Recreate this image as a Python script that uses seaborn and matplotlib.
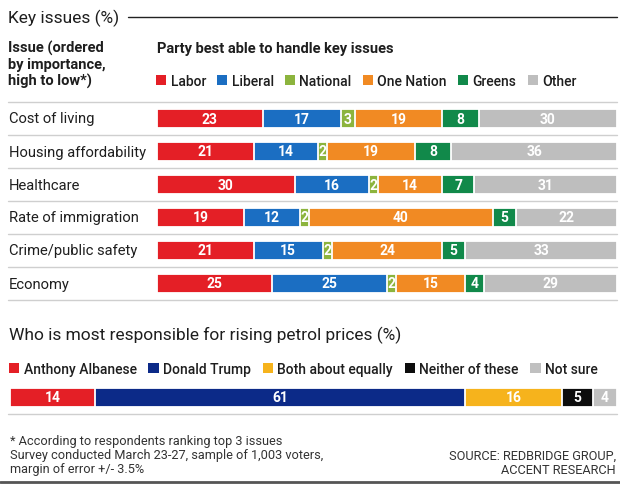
import seaborn as sns
import matplotlib.pyplot as plt
import matplotlib.transforms as mtransforms
from matplotlib.patches import Patch
from matplotlib.lines import Line2D
import numpy as np

# data
issues = ["Cost of living", "Housing affordability", "Healthcare",
          "Rate of immigration", "Crime/public safety", "Economy"]
parties = ["Labor", "Liberal", "National", "One Nation", "Greens", "Other"]
labor = [23, 21, 30, 19, 21, 25]
liberal = [17, 14, 16, 12, 15, 25]
national = [3, 2, 2, 2, 2, 2]
one_nation = [19, 19, 14, 40, 24, 15]
greens = [8, 8, 7, 5, 5, 4]
other = [30, 36, 31, 22, 33, 29]
party_colors = ["#e41f26", "#1b6ec2", "#8cb43d", "#f18a23", "#11894a", "#bebebe"]

petrol_cats = ["Anthony Albanese", "Donald Trump", "Both about equally",
               "Neither of these", "Not sure"]
petrol_vals = [14, 61, 16, 5, 4]
petrol_colors = ["#e41f26", "#0c2a88", "#f6b31c", "#0d0d0d", "#c0c0c0"]

sns.set_theme(style="white")
plt.rcParams['font.family'] = ['Roboto', 'DejaVu Sans']
TXT = "#1e1e1e"

W, H = 620, 485
fig = plt.figure(figsize=(W / 100, H / 100), dpi=100)


def fx(px):
    return px / W


def fy(py):
    return 1 - py / H


def hline(y, x0=8, x1=617, color="#cfcfcf", lw=1.0):
    fig.add_artist(Line2D([fx(x0), fx(x1)], [fy(y), fy(y)], color=color, lw=lw,
                          transform=fig.transFigure))


# ---- top section: key issues ----
fig.text(fx(8), fy(18), "Key issues (%)", fontsize=12.5, color=TXT, va="center")
hline(18, 128, 617, color="#222222", lw=1.0)
fig.text(fx(8), fy(65), "Issue (ordered\nby importance,\nhigh to low*)", fontsize=10.5,
         fontweight="bold", color=TXT, va="center", linespacing=1.15)
fig.text(fx(157), fy(49), "Party best able to handle key issues", fontsize=10.5,
         fontweight="bold", color=TXT, va="center")

ax1 = fig.add_axes([fx(157), fy(301), fx(617) - fx(157), (301 - 103) / H])
series = np.array([labor, liberal, national, one_nation, greens, other]).T
cum = series.cumsum(axis=1)
for j in range(len(parties) - 1, -1, -1):
    sns.barplot(x=cum[:, j], y=issues, orient="h", color=party_colors[j],
                saturation=1, width=0.58, edgecolor="white", linewidth=1.3, ax=ax1)
for i in range(len(issues)):
    for j in range(len(parties)):
        ax1.text(cum[i, j] - series[i, j] / 2, i, str(series[i, j]), color="white",
                 fontsize=10, fontweight="bold", ha="center", va="center")
ax1.set_xlim(0, 100)
ax1.set_ylim(5.5, -0.5)
ax1.axis("off")

blend = mtransforms.blended_transform_factory(fig.transFigure, ax1.transData)
for i, name in enumerate(issues):
    ax1.text(fx(9), i, name, transform=blend, fontsize=10.6, color=TXT,
             ha="left", va="center")
for y in [103, 136, 169, 202, 235, 268, 301]:
    hline(y)

leg_font = {"size": 10, "weight": "medium"}
handles1 = [Patch(facecolor=c, edgecolor="none") for c in party_colors]
fig.legend(handles1, parties, loc="center left", bbox_to_anchor=(fx(156), fy(82)),
           ncol=6, frameon=False, prop=leg_font, handlelength=0.75, handleheight=0.75,
           handletextpad=0.3, columnspacing=0.8, borderpad=0, borderaxespad=0,
           labelcolor=TXT)

# ---- bottom section: petrol prices ----
fig.text(fx(9), fy(335), "Who is most responsible for rising petrol prices (%)",
         fontsize=12.5, color=TXT, va="center")
handles2 = [Patch(facecolor=c, edgecolor="none") for c in petrol_colors]
fig.legend(handles2, petrol_cats, loc="center left", bbox_to_anchor=(fx(9), fy(370)),
           ncol=5, frameon=False, prop=leg_font, handlelength=0.75, handleheight=0.75,
           handletextpad=0.3, columnspacing=0.85, borderpad=0, borderaxespad=0,
           labelcolor=TXT)

ax2 = fig.add_axes([fx(10), fy(411), fx(617) - fx(10), 25 / H])
pcum = np.cumsum(petrol_vals)
for j in range(len(petrol_vals) - 1, -1, -1):
    sns.barplot(x=[pcum[j]], y=["all"], orient="h", color=petrol_colors[j],
                saturation=1, width=0.78, edgecolor="white", linewidth=1.3, ax=ax2)
for j, v in enumerate(petrol_vals):
    ax2.text(pcum[j] - v / 2, 0, str(v), color="white", fontsize=10,
             fontweight="bold", ha="center", va="center")
ax2.set_xlim(0, 100)
ax2.set_ylim(0.5, -0.5)
ax2.axis("off")
hline(415)

# ---- footnotes ----
fig.text(fx(10), fy(456), "* According to respondents ranking top 3 issues\n"
         "Survey conducted March 23-27, sample of 1,003 voters,\n"
         "margin of error +/- 3.5%", fontsize=9.2, color="#333333", va="center",
         linespacing=1.1)
fig.text(fx(616), fy(463), "SOURCE: REDBRIDGE GROUP,\nACCENT RESEARCH", fontsize=9.2,
         color="#333333", ha="right", va="center", linespacing=1.1)
hline(483, 0, 620, color="#555555", lw=2)

fig.savefig("out.png", dpi=100, facecolor="white")
